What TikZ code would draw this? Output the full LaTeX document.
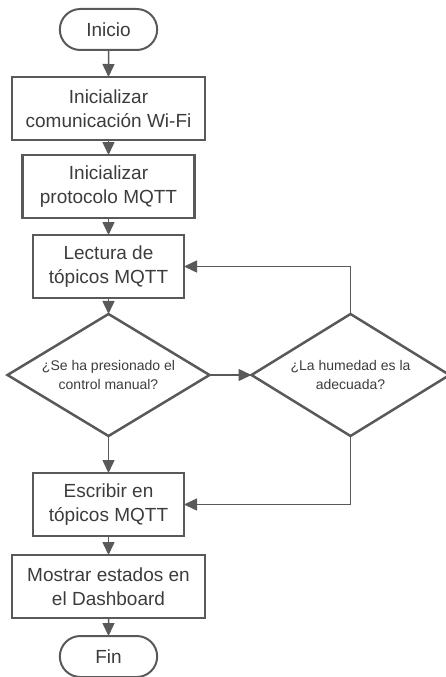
\documentclass[tikz,border=0pt]{standalone}
\usepackage{fontspec}
\setmainfont{Liberation Sans}
\usetikzlibrary{shapes.geometric,shapes.misc,positioning,arrows.meta}
\definecolor{linecolor}{RGB}{89,89,89}
\definecolor{textcolor}{RGB}{60,60,60}

\begin{document}
\begin{tikzpicture}[
	x=1pt, y=1pt,
	proceso/.style={rectangle, draw=linecolor, line width=2.5pt, minimum height=63pt,
		inner sep=2pt, align=center, font=\fontsize{19}{24}\selectfont},
	terminal/.style={rounded rectangle, draw=linecolor, line width=2pt, minimum width=104pt,
		minimum height=41pt, font=\fontsize{19}{24}\selectfont},
	decision/.style={diamond, aspect=1.65, draw=linecolor, line width=2.5pt, minimum width=202pt,
		minimum height=122pt, inner sep=0pt, align=center, font=\fontsize{14}{19}\selectfont},
	flecha/.style={draw=linecolor, line width=1.5pt, -{Triangle[length=13pt,width=12pt]}},
	every node/.style={text=textcolor, outer sep=0pt},
	node distance=16pt,
]
\useasboundingbox (0,0) rectangle (446,-677);
% \conecta{from}{to}: straight arrow between two nodes.
\def\conecta#1#2{
	\draw[flecha] (#1) -- (#2);
}
	\node[terminal] at (108.5,-29.5) (inicio) {Inicio};
	\node[proceso, minimum width=193pt, below=27pt of inicio] (wifi)
		{Inicializar\\comunicación Wi-Fi};
	\node[proceso, minimum width=172pt, below=15pt of wifi] (mqtt)
		{Inicializar\\protocolo MQTT};
	\node[proceso, minimum width=151pt, below=17pt of mqtt] (lectura)
		{Lectura de\\tópicos MQTT};
	\node[decision, below=16pt of lectura] (manual)
		{¿Se ha presionado el\\control manual?};
	\node[decision, minimum width=198pt, right=42pt of manual] (humedad)
		{¿La humedad es la\\adecuada?};
	\node[proceso, minimum width=151pt, below=37pt of manual] (escribir)
		{Escribir en\\tópicos MQTT};
	\node[proceso, minimum width=193pt, below=19pt of escribir] (mostrar)
		{Mostrar estados en\\el Dashboard};
	\node[terminal, below=18pt of mostrar] (fin) {Fin};

	\conecta{inicio}{wifi}
	\conecta{wifi}{mqtt}
	\conecta{mqtt}{lectura}
	\conecta{lectura}{manual}
	\conecta{manual.east}{humedad.west}
	\conecta{manual}{escribir}
	\conecta{escribir}{mostrar}
	\conecta{mostrar}{fin}
	\draw[flecha] (humedad.north) |- (lectura.east);
	\draw[flecha] (humedad.south) |- (escribir.east);
\end{tikzpicture}
\end{document}
